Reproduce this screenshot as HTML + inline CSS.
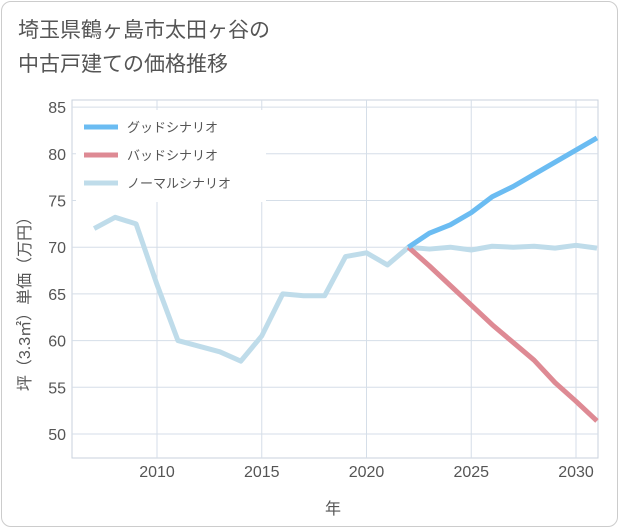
<!DOCTYPE html>
<html><head><meta charset="utf-8"><style>
body{margin:0;background:#fff;}
#wrap{position:relative;width:621px;height:530px;font-family:"Liberation Sans","Noto Sans CJK JP",sans-serif;}
#frame{position:absolute;left:1px;top:1px;width:617px;height:526px;border:1px solid #ccc;border-radius:10px;box-sizing:border-box;}
#title{position:absolute;left:18px;top:14px;font-size:21px;line-height:34px;color:#555;}
</style></head><body>
<div id="wrap">
<div id="frame"></div>
<div id="title">埼玉県鶴ヶ島市太田ヶ谷の<br>中古戸建ての価格推移</div>
<svg id="chart" width="621" height="530" style="position:absolute;left:0;top:0"></svg>
</div>
<script>
const years=[2007,2008,2009,2010,2011,2012,2013,2014,2015,2016,2017,2018,2019,2020,2021,2022,2023,2024,2025,2026,2027,2028,2029,2030,2031];
const normal=[72,73.2,72.5,66,60,59.4,58.8,57.8,60.5,65,64.8,64.8,69,69.4,68.1,70,69.8,70,69.7,70.1,70,70.1,69.9,70.2,69.9];
const goodYears=[2022,2023,2024,2025,2026,2027,2028,2029,2030,2031];
const good=[70,71.5,72.4,73.7,75.4,76.5,77.8,79.1,80.4,81.7];
const bad=[70,68,65.9,63.8,61.7,59.8,57.9,55.5,53.5,51.4];
const xTicks=[2010,2015,2020,2025,2030];
const yTicks=[50,55,60,65,70,75,80,85];
const legendLabels=["グッドシナリオ","バッドシナリオ","ノーマルシナリオ"];
const legendColors=["#6bbcf2","#de8a94","#bfdcea"];

const L=72,R=598,T=100,B=458;
const xs=y=>157+(y-2010)*20.95;
const ys=v=>434-(v-50)*9.34;
const svg=document.getElementById('chart');
const NS='http://www.w3.org/2000/svg';
function mk(t,a){const e=document.createElementNS(NS,t);for(const k in a)e.setAttribute(k,a[k]);svg.appendChild(e);return e;}
let bg=mk('rect',{x:L,y:T,width:R-L,height:B-T,fill:'#fff',stroke:'#c8d2dc'});


xTicks.forEach(t=>{
 let g=mk('line',{x1:xs(t),x2:xs(t),y1:T,y2:B,stroke:'#d5dee8'});
 
 
 let tx=mk('text',{x:xs(t),y:477,'text-anchor':'middle','font-size':16,fill:'#555'});tx.textContent=t;
 
 
});
yTicks.forEach(t=>{
 let g=mk('line',{x1:L,x2:R,y1:ys(t),y2:ys(t),stroke:'#d5dee8'});
 
 
 let tx=mk('text',{x:66,y:ys(t)+6,'text-anchor':'end','font-size':16,fill:'#555'});tx.textContent=t;
 
 
});
let xt=mk('text',{x:333,y:514,'text-anchor':'middle','font-size':16,fill:'#555'});xt.textContent='年';


let yt=mk('text',{x:0,y:0,'text-anchor':'middle','font-size':16,fill:'#555',transform:'translate(30,300) rotate(-90)'});yt.textContent='坪（3.3㎡）単価（万円）';


function line(xv,yv,color,name){
 const p=xv.map((x,i)=>(i?'L':'M')+xs(x)+','+ys(yv[i])).join(' ');
 let e=mk('path',{d:p,fill:'none',stroke:color,'stroke-width':5,'stroke-linejoin':'round'});
 
 
}
line(years,normal,legendColors[2],'normal-series-line');
line(goodYears,bad,legendColors[1],'bad-series-line');
line(goodYears,good,legendColors[0],'good-series-line');
let lb=mk('rect',{x:76,y:110,width:190,height:92,fill:'#fff'});


legendLabels.forEach((l,i)=>{
 const y=127+i*28;
 let s=mk('line',{x1:84,x2:118,y1:y,y2:y,stroke:legendColors[i],'stroke-width':5});
 
 
 let t=mk('text',{x:127,y:y+5,'font-size':13,fill:'#555'});t.textContent=l;
 
 
});
</script>
</body></html>
